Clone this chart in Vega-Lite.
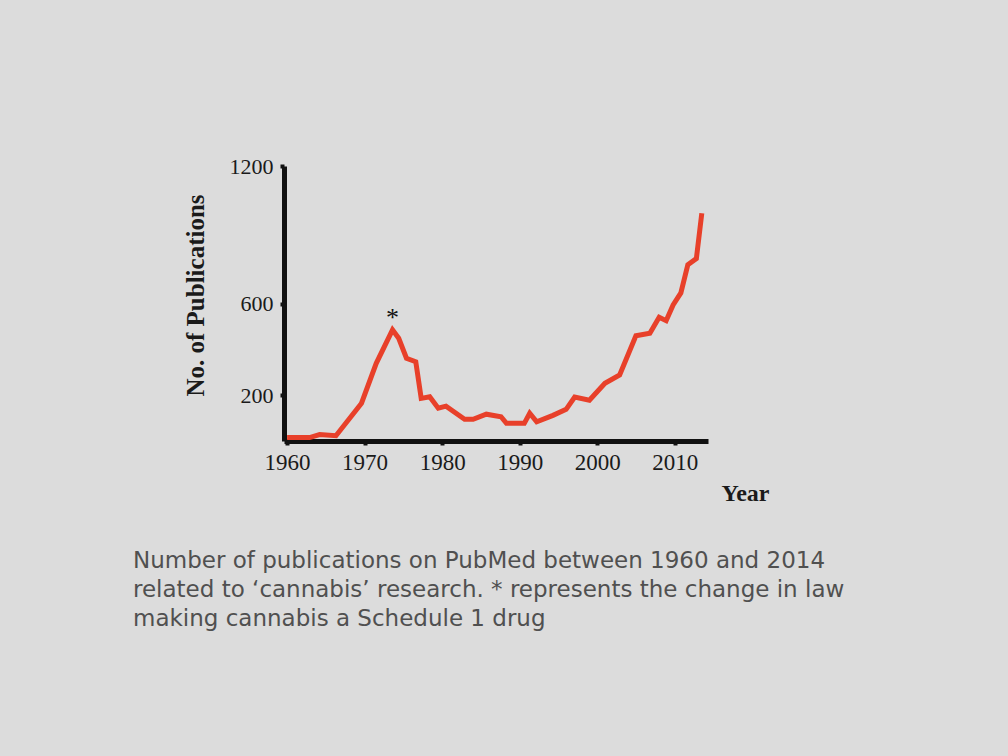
{
  "$schema": "https://vega.github.io/schema/vega-lite/v6.json",
  "autosize": {"type": "none"},
  "width": 424,
  "height": 275,
  "padding": {"left": 284, "top": 166, "right": 300, "bottom": 315},
  "background": "#dcdcdc",
  "config": {"view": {"stroke": null}},
  "title": {
    "text": ["Number of publications on PubMed between 1960 and 2014", "related to ‘cannabis’ research. * represents the change in law", "making cannabis a Schedule 1 drug"],
    "orient": "bottom",
    "anchor": "start",
    "frame": "group",
    "font": "DejaVu Sans",
    "fontSize": 23,
    "fontWeight": "normal",
    "color": "#505050",
    "lineHeight": 29,
    "dx": -151,
    "offset": 45
  },
  "datasets": {
    "pubs": [
      {"year": 1960.0, "count": 15},
      {"year": 1962.9, "count": 15},
      {"year": 1964.2, "count": 28},
      {"year": 1966.3, "count": 23},
      {"year": 1969.6, "count": 165},
      {"year": 1971.5, "count": 339},
      {"year": 1973.6, "count": 485},
      {"year": 1974.4, "count": 448},
      {"year": 1975.4, "count": 361},
      {"year": 1976.6, "count": 346},
      {"year": 1977.3, "count": 186},
      {"year": 1978.4, "count": 193},
      {"year": 1979.5, "count": 143},
      {"year": 1980.5, "count": 152},
      {"year": 1982.9, "count": 95},
      {"year": 1984.0, "count": 95},
      {"year": 1985.7, "count": 117},
      {"year": 1987.6, "count": 106},
      {"year": 1988.3, "count": 77},
      {"year": 1990.6, "count": 77},
      {"year": 1991.3, "count": 121},
      {"year": 1992.2, "count": 84},
      {"year": 1994.3, "count": 112},
      {"year": 1996.0, "count": 138},
      {"year": 1997.1, "count": 192},
      {"year": 1999.0, "count": 178},
      {"year": 2001.0, "count": 252},
      {"year": 2002.9, "count": 288},
      {"year": 2005.0, "count": 459},
      {"year": 2006.8, "count": 470},
      {"year": 2008.0, "count": 540},
      {"year": 2008.9, "count": 525},
      {"year": 2009.8, "count": 594},
      {"year": 2010.8, "count": 646},
      {"year": 2011.7, "count": 769},
      {"year": 2012.8, "count": 796},
      {"year": 2013.5, "count": 994}
    ],
    "note": [
      {"year": 1973.6, "count": 565, "label": "*"}
    ]
  },
  "layer": [
    {
      "data": {"name": "pubs"},
      "mark": {"type": "line", "color": "#e8402a", "strokeWidth": 5, "strokeJoin": "miter"},
      "encoding": {
        "x": {
          "field": "year", "type": "quantitative",
          "scale": {"domain": [1959.6, 2014.3], "nice": false, "zero": false},
          "axis": {
            "values": [1960, 1970, 1980, 1990, 2000, 2010],
            "format": "d",
            "grid": false,
            "domainColor": "#111111", "domainWidth": 5,
            "tickColor": "#111111", "tickWidth": 4, "tickSize": 4,
            "labelFont": "Liberation Serif", "labelFontSize": 23, "labelColor": "#1a1a1a",
            "labelPadding": 6,
            "title": "Year",
            "titleFont": "Liberation Serif", "titleFontSize": 24, "titleFontWeight": "bold", "titleColor": "#1a1a1a",
            "titleX": 461, "titleY": 52, "titleAlign": "center", "titleBaseline": "middle"
          }
        },
        "y": {
          "field": "count", "type": "quantitative",
          "scale": {"domain": [0, 1200], "nice": false},
          "axis": {
            "values": [200, 600, 1200],
            "format": "d",
            "grid": false,
            "domainColor": "#111111", "domainWidth": 5,
            "tickColor": "#111111", "tickWidth": 4, "tickSize": 4,
            "labelFont": "Liberation Serif", "labelFontSize": 22, "labelColor": "#1a1a1a",
            "labelPadding": 7,
            "title": "No. of Publications",
            "titleFont": "Liberation Serif", "titleFontSize": 25, "titleFontWeight": "bold", "titleColor": "#1a1a1a",
            "titleX": -89, "titleY": 129, "titleAlign": "center", "titleBaseline": "middle"
          }
        }
      }
    },
    {
      "data": {"name": "note"},
      "mark": {"type": "text", "font": "Liberation Serif", "fontSize": 26, "color": "#111111", "baseline": "middle", "dy": 6},
      "encoding": {
        "x": {"field": "year", "type": "quantitative"},
        "y": {"field": "count", "type": "quantitative"},
        "text": {"field": "label"}
      }
    }
  ]
}
